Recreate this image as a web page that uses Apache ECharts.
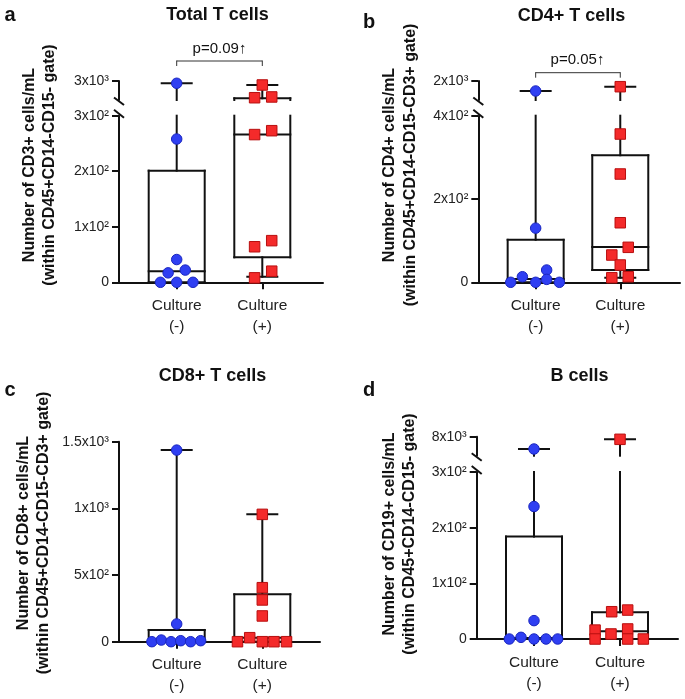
<!DOCTYPE html>
<html><head><meta charset="utf-8">
<script src="https://cdn.jsdelivr.net/npm/echarts@6/dist/echarts.min.js"></script>
<style>html,body{margin:0;padding:0;background:#fff}#c{width:685px;height:699px}</style>
</head><body><div id="c"></div>
<script>
// ---------- data ----------
const groupLabels = ['Culture\n(-)', 'Culture\n(+)'];

// a: Total T cells
const totalNegValues = [2880, 258, 41, 17, 22, 0, 0, 0];
const totalNegJitter = [0, 0, 0, -0.1, 0.1, -0.19, 0, 0.19];
const totalPosValues = [2790, 2120, 2160, 266, 273, 64, 75, 20, 8];
const totalPosJitter = [0, -0.09, 0.11, -0.09, 0.11, -0.09, 0.11, 0.11, -0.09];
const totalNegBox = [0, 0, 20, 201, 2880];   // min, q1, median, q3, max
const totalPosBox = [10, 45, 266, 2090, 2790];
const totalLowerTicks = [0, 100, 200, 300];
const totalLowerLabels = ['0', '1x10²', '2x10²', '3x10²'];
const totalUpperTicks = [3000];
const totalUpperLabels = ['3x10³'];
const totalUpperRange = [2000, 3000];

// b: CD4+ T cells
const cd4NegValues = [1474, 130, 29.5, 13.4, 7, 0, 0, 0];
const cd4NegJitter = [0, 0, 0.13, -0.157, 0.13, -0.295, 0, 0.28];
const cd4PosValues = [1700, 356, 260, 143, 84, 65.5, 41.5, 11, 13.4];
const cd4PosJitter = [0, 0, 0, 0, 0.094, -0.1, 0, -0.1, 0.094];
const cd4NegBox = [0, 0, 8, 102, 1474];
const cd4PosBox = [11, 29.5, 85, 305, 1700];
const cd4LowerTicks = [0, 200, 400];
const cd4LowerLabels = ['0', '2x10²', '4x10²'];
const cd4UpperTicks = [2000];
const cd4UpperLabels = ['2x10³'];
const cd4UpperRange = [1000, 2000];

// c: CD8+ T cells
const cd8NegValues = [1437, 133, 0, 12.5, 0, 7.5, 0, 7.5];
const cd8NegJitter = [0, 0, -0.29, -0.18, -0.066, 0.047, 0.163, 0.28];
const cd8PosValues = [955, 405, 313, 193, 30, 0, 0, 0, 0];
const cd8PosJitter = [0, 0, 0, 0, -0.147, -0.29, 0, 0.136, 0.283];
const cd8NegBox = [0, 0, 6, 88, 1437];
const cd8PosBox = [0, 0, 30, 355, 955];
const cd8LowerTicks = [0, 500, 1000, 1500];
const cd8LowerLabels = ['0', '5x10²', '1x10³', '1.5x10³'];

// d: B cells
const bNegValues = [5410, 238, 33, 0, 3, 0, 0, 0];
const bNegJitter = [0, 0, 0, -0.287, -0.151, 0, 0.14, 0.275];
const bPosValues = [7450, 49, 52, 16, 18, 9, 0, 0, 0];
const bPosJitter = [0, -0.097, 0.089, -0.29, 0.089, -0.105, -0.29, 0.089, 0.271];
const bNegBox = [0, 0, 2, 184, 5410];
const bPosBox = [0, 0, 14, 48, 7450];
const bLowerTicks = [0, 100, 200, 300];
const bLowerLabels = ['0', '1x10²', '2x10²', '3x10²'];
const bUpperTicks = [8000];
const bUpperLabels = ['8x10³'];
const bUpperRange = [4000, 8000];

// ---------- panel definitions (data + layout) ----------
const panels = [
  { letter: 'a', title: 'Total T cells', name1: 'Number of CD3+ cells/mL', name2: '(within CD45+CD14-CD15- gate)',
    neg: [totalNegValues, totalNegJitter, totalNegBox], pos: [totalPosValues, totalPosJitter, totalPosBox],
    lowTicks: totalLowerTicks, lowLabels: totalLowerLabels,
    upTicks: totalUpperTicks, upLabels: totalUpperLabels, upRange: totalUpperRange, p: 'p=0.09↑',
    L: { axisX: 119, xRight: 323, lowTop: 115.7, lowBottom: 282.3, upTop: 81, upBottom: 100, xMin: -0.674, xMax: 1.709,
         titleX: 217.5, titleY: 14.7, letX: 10, letY: 15.5, n1x: 30, n2x: 50, nY: 165, pX: 219.5, pY: 49, brY: 61 } },
  { letter: 'b', title: 'CD4+ T cells', name1: 'Number of CD4+ cells/mL', name2: '(within CD45+CD14-CD15-CD3+ gate)',
    neg: [cd4NegValues, cd4NegJitter, cd4NegBox], pos: [cd4PosValues, cd4PosJitter, cd4PosBox],
    lowTicks: cd4LowerTicks, lowLabels: cd4LowerLabels,
    upTicks: cd4UpperTicks, upLabels: cd4UpperLabels, upRange: cd4UpperRange, p: 'p=0.05↑',
    L: { axisX: 478.3, xRight: 680, lowTop: 115.7, lowBottom: 282.3, upTop: 81, upBottom: 100, xMin: -0.678, xMax: 1.706,
         titleX: 571.5, titleY: 15.7, letX: 369, letY: 22, n1x: 390, n2x: 411, nY: 165, pX: 577.5, pY: 60, brY: 72.7 } },
  { letter: 'c', title: 'CD8+ T cells', name1: 'Number of CD8+ cells/mL', name2: '(within CD45+CD14-CD15-CD3+ gate)',
    neg: [cd8NegValues, cd8NegJitter, cd8NegBox], pos: [cd8PosValues, cd8PosJitter, cd8PosBox],
    lowTicks: cd8LowerTicks, lowLabels: cd8LowerLabels,
    L: { axisX: 119, xRight: 320, lowTop: 441.7, lowBottom: 641.7, xMin: -0.674, xMax: 1.674,
         titleX: 212.5, titleY: 375.7, letX: 10, letY: 390.5, n1x: 23.3, n2x: 43.3, nY: 533 } },
  { letter: 'd', title: 'B cells', name1: 'Number of CD19+ cells/mL', name2: '(within CD45+CD14-CD15- gate)',
    neg: [bNegValues, bNegJitter, bNegBox], pos: [bPosValues, bPosJitter, bPosBox],
    lowTicks: bLowerTicks, lowLabels: bLowerLabels,
    upTicks: bUpperTicks, upLabels: bUpperLabels, upRange: bUpperRange,
    L: { axisX: 476.7, xRight: 678, lowTop: 472, lowBottom: 639, upTop: 436.7, upBottom: 455.7, xMin: -0.666, xMax: 1.674,
         titleX: 579.5, titleY: 375.7, letX: 369, letY: 390.5, n1x: 390, n2x: 410, nY: 534 } }
];

// ---------- build ----------
const FONT = 'Liberation Sans, Arial, Helvetica, sans-serif';
const INK = '#111';
const BLUE = { color: '#2f3ff2', borderColor: '#1a26c0', borderWidth: 1, opacity: 1 };
const RED = { color: '#f42a2a', borderColor: '#b80f0f', borderWidth: 1, opacity: 1 };

const grid = [], xAxis = [], yAxis = [], series = [], graphic = [];

function boxRenderer(lo, hi) {
  return function (params, api) {
    const xc = api.coord([api.value(0), lo])[0];
    const Y = v => api.coord([0, v])[1];
    const cl = v => Math.max(lo, Math.min(hi, v));
    const inR = v => v >= lo && v <= hi;
    const mn = api.value(1), q1 = api.value(2), md = api.value(3), q3 = api.value(4), mx = api.value(5);
    const hw = 28, cw = 15;
    const children = [];
    const line = (x1, y1, x2, y2) => children.push({ type: 'line', shape: { x1, y1, x2, y2 },
      style: { stroke: INK, lineWidth: 2, lineCap: 'square' } });
    if (q3 >= lo && q1 <= hi) {
      const yT = Y(cl(q3)), yB = Y(cl(q1));
      line(xc - hw, yT, xc - hw, yB); line(xc + hw, yT, xc + hw, yB);
      if (inR(q3)) line(xc - hw, yT, xc + hw, yT);
      if (inR(q1)) line(xc - hw, yB, xc + hw, yB);
    }
    if (inR(md)) line(xc - hw, Y(md), xc + hw, Y(md));
    if (mx > q3 && mx >= lo && q3 <= hi) line(xc, Y(cl(mx)), xc, Y(cl(q3)));
    if (inR(mx)) line(xc - cw, Y(mx), xc + cw, Y(mx));
    if (q1 > mn && q1 >= lo && mn <= hi) line(xc, Y(cl(q1)), xc, Y(cl(mn)));
    if (inR(mn) && mn > 0) line(xc - cw, Y(mn), xc + cw, Y(mn));
    return { type: 'group', children };
  };
}

function addSegment(p, lo, hi, top, bottom, ticks, labels, isLower) {
  const L = p.L;
  const gi = grid.length;
  const lowMax = p.lowTicks[p.lowTicks.length - 1];
  grid.push({ left: L.axisX, top: top, width: L.xRight - L.axisX, height: bottom - top, containLabel: false });
  xAxis.push({
    gridIndex: gi, type: 'value', min: L.xMin, max: L.xMax, show: isLower,
    axisLine: { show: true, onZero: false, lineStyle: { color: INK, width: 2 } },
    axisTick: { show: true, customValues: [0, 1], length: 7, lineStyle: { color: INK, width: 2 } },
    axisLabel: { show: true, customValues: [0, 1], formatter: v => groupLabels[Math.round(v)],
      fontSize: 15.5, lineHeight: 21, color: '#222', fontFamily: FONT, margin: 13 },
    splitLine: { show: false }
  });
  yAxis.push({
    gridIndex: gi, type: 'value', min: lo, max: hi,
    axisLine: { show: true, onZero: false, lineStyle: { color: INK, width: 2 } },
    axisTick: { show: true, customValues: ticks, length: 7, lineStyle: { color: INK, width: 2 } },
    axisLabel: { show: true, customValues: ticks, formatter: v => labels[ticks.indexOf(v)] ?? '',
      fontSize: 14, color: '#222', fontFamily: FONT, margin: 10 },
    splitLine: { show: false }
  });
  series.push({
    type: 'custom', xAxisIndex: gi, yAxisIndex: gi, clip: false, z: 2, silent: true,
    renderItem: boxRenderer(lo, hi),
    encode: { x: 0, y: [1, 2, 3, 4, 5] },
    data: [[0].concat(p.neg[2]), [1].concat(p.pos[2])]
  });
  [[p.neg, 'circle', BLUE], [p.pos, 'rect', RED]].forEach(([g, sym, st], k) => {
    const pts = [];
    g[0].forEach((v, i) => {
      const inSeg = isLower ? (v <= lowMax) : (v > lowMax);
      if (inSeg) pts.push([k + g[1][i], v]);
    });
    series.push({ type: 'scatter', xAxisIndex: gi, yAxisIndex: gi, clip: false, z: 5, symbol: sym,
      symbolSize: 10.5, itemStyle: st, data: pts, silent: true });
  });
}

function txt(x, y, text, size, weight, rot) {
  graphic.push({ type: 'text', x, y, rotation: rot || 0, silent: true,
    style: { text, fontSize: size, fontWeight: weight, fontFamily: FONT, fill: '#111',
      align: 'center', verticalAlign: 'middle', textAlign: 'center', textVerticalAlign: 'middle' } });
}
function ln(x1, y1, x2, y2, w, c) {
  graphic.push({ type: 'line', silent: true, shape: { x1, y1, x2, y2 }, style: { stroke: c || INK, lineWidth: w || 2 } });
}

panels.forEach(p => {
  const L = p.L;
  const lowMax = p.lowTicks[p.lowTicks.length - 1];
  addSegment(p, 0, lowMax, L.lowTop, L.lowBottom, p.lowTicks, p.lowLabels, true);
  if (p.upRange) {
    addSegment(p, p.upRange[0], p.upRange[1], L.upTop, L.upBottom, p.upTicks, p.upLabels, false);
    // axis break marks
    ln(L.axisX - 5, L.upBottom - 2.5, L.axisX + 5, L.upBottom + 5);
    ln(L.axisX - 5, L.lowTop - 6, L.axisX + 5, L.lowTop + 2);
  }
  txt(L.titleX, L.titleY, p.title, 18, 'bold');
  txt(L.letX, L.letY, p.letter, 20, 'bold');
  txt(L.n1x, L.nY, p.name1, 16, 'bold', Math.PI / 2);
  txt(L.n2x, L.nY, p.name2, 16, 'bold', Math.PI / 2);
  if (p.p) {
    const sp = (L.xRight - L.axisX) / (L.xMax - L.xMin);
    const x0 = L.axisX + (0 - L.xMin) * sp, x1 = L.axisX + (1 - L.xMin) * sp;
    ln(x0, L.brY, x1, L.brY, 1, '#333');
    ln(x0, L.brY - 0.5, x0, L.brY + 5, 1, '#333');
    ln(x1, L.brY - 0.5, x1, L.brY + 5, 1, '#333');
    txt(L.pX, L.pY, p.p, 15, 'normal');
  }
});

const chart = echarts.init(document.getElementById('c'), null, { renderer: 'canvas' });
chart.setOption({ animation: false, backgroundColor: '#fff', grid, xAxis, yAxis, series, graphic });
</script>
</body></html>
